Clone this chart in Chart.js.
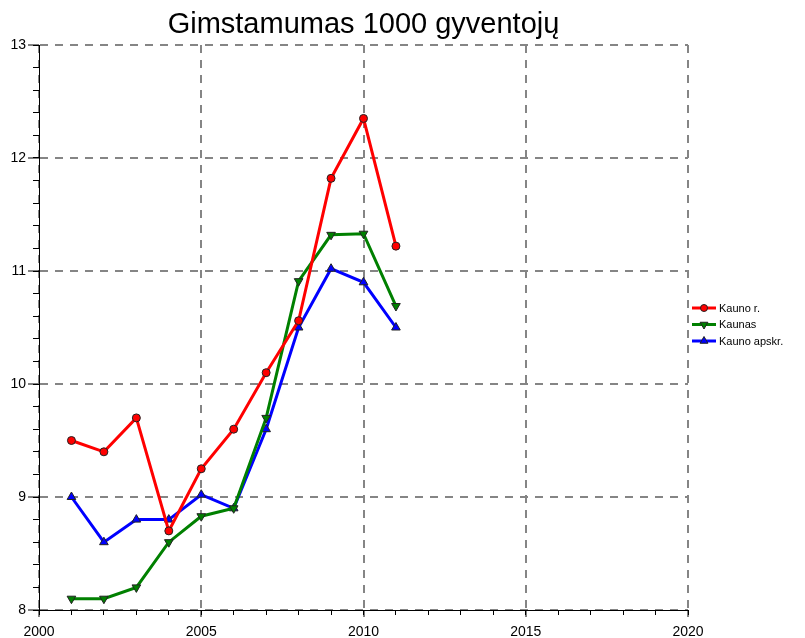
<!DOCTYPE html>
<html>
<head>
<meta charset="utf-8">
<title>Gimstamumas 1000 gyventojų</title>
<script src="https://cdn.jsdelivr.net/npm/chart.js@4.4.1/dist/chart.umd.min.js"></script>
<style>
  html, body { margin: 0; padding: 0; background: #fff; }
  canvas { display: block; }
</style>
</head>
<body>
<canvas id="chart" width="805" height="638"></canvas>
<script>
const years = [2001, 2002, 2003, 2004, 2005, 2006, 2007, 2008, 2009, 2010, 2011];
const kaunoR = [9.5, 9.4, 9.7, 8.7, 9.25, 9.6, 10.1, 10.56, 11.82, 12.35, 11.22];
const kaunas = [8.1, 8.1, 8.2, 8.6, 8.83, 8.9, 9.7, 10.91, 11.32, 11.33, 10.69];
const kaunoApskr = [9.0, 8.6, 8.8, 8.8, 9.02, 8.9, 9.6, 10.5, 11.02, 10.9, 10.5];
const yTicks = [8, 9, 10, 11, 12, 13];
const xTicks = [2000, 2005, 2010, 2015, 2020];
const titleText = 'Gimstamumas 1000 gyventojų';

const FONT = 'Arial, "Liberation Sans", sans-serif';

function toPoints(values) {
  return years.map((yr, i) => ({ x: yr, y: values[i] }));
}

function series(label, values, color, rotation, radius) {
  return {
    label: label,
    data: toPoints(values),
    borderColor: color,
    backgroundColor: color,
    borderWidth: 3,
    tension: 0,
    pointStyle: rotation === null ? 'circle' : 'triangle',
    pointRotation: rotation || 0,
    pointRadius: radius,
    pointHoverRadius: radius,
    pointBackgroundColor: color,
    pointBorderColor: '#222',
    pointBorderWidth: 1
  };
}

// marker shape shared by the legend swatches
function marker(ctx, ds, cx, cy, r) {
  ctx.beginPath();
  if (ds.pointStyle === 'circle') {
    ctx.arc(cx, cy, r, 0, Math.PI * 2);
  } else {
    const rot = ds.pointRotation * Math.PI / 180;
    for (let k = 0; k < 3; k++) {
      const a = rot - Math.PI / 2 + k * 2 * Math.PI / 3;
      const px = cx + Math.cos(a) * r;
      const py = cy + Math.sin(a) * r;
      if (k === 0) ctx.moveTo(px, py); else ctx.lineTo(px, py);
    }
    ctx.closePath();
  }
  ctx.fillStyle = ds.pointBackgroundColor;
  ctx.strokeStyle = ds.pointBorderColor;
  ctx.lineWidth = 1;
  ctx.fill();
  ctx.stroke();
}

// title centred over the plot area, legend to the right of it
const decorations = {
  id: 'decorations',
  afterDraw(chart) {
    const ctx = chart.ctx;
    const area = chart.chartArea;
    ctx.save();
    ctx.fillStyle = '#000';
    ctx.font = '29px ' + FONT;
    ctx.textAlign = 'center';
    ctx.textBaseline = 'alphabetic';
    ctx.fillText(titleText, (area.left + area.right) / 2, 33);

    const x0 = area.right + 4;
    const x1 = x0 + 24;
    chart.data.datasets.forEach((ds, i) => {
      const y = 308 + i * 16.5;
      ctx.strokeStyle = ds.borderColor;
      ctx.lineWidth = 3;
      ctx.beginPath();
      ctx.moveTo(x0, y);
      ctx.lineTo(x1, y);
      ctx.stroke();
      marker(ctx, ds, (x0 + x1) / 2, y, ds.pointRadius - 0.5);
      ctx.fillStyle = '#000';
      ctx.font = '11px ' + FONT;
      ctx.textAlign = 'left';
      ctx.textBaseline = 'middle';
      ctx.fillText(ds.label, x1 + 3, y + 0.5);
    });
    ctx.restore();
  }
};

const gridStyle = {
  color: '#858585',
  lineWidth: 2,
  tickColor: '#000',
  tickWidth: 1
};

new Chart(document.getElementById('chart'), {
  type: 'line',
  data: {
    datasets: [
      series('Kauno r.', kaunoR, '#ff0000', null, 4),
      series('Kaunas', kaunas, '#008000', 180, 5),
      series('Kauno apskr.', kaunoApskr, '#0000ff', 0, 5)
    ]
  },
  options: {
    responsive: false,
    animation: false,
    events: [],
    layout: { padding: { top: 45, right: 117, bottom: 0, left: 0 } },
    plugins: {
      legend: { display: false },
      title: { display: false },
      tooltip: { enabled: false }
    },
    scales: {
      x: {
        type: 'linear',
        position: 'bottom',
        weight: 1,
        min: 2000,
        max: 2020,
        afterBuildTicks(scale) { scale.ticks = xTicks.map(v => ({ value: v })); },
        afterFit(scale) { scale.height = 28; },
        grid: Object.assign({ tickLength: 7 }, gridStyle),
        border: { display: true, color: '#000', width: 1, dash: [8, 7] },
        ticks: {
          color: '#000',
          padding: 7,
          maxRotation: 0,
          font: { family: FONT, size: 14 },
          callback: v => String(v)
        }
      },
      xMinor: {
        type: 'linear',
        position: 'bottom',
        weight: 0,
        min: 2000,
        max: 2020,
        ticks: { display: false, stepSize: 1 },
        afterFit(scale) { scale.height = 0; },
        grid: { drawOnChartArea: false, tickLength: 5, tickColor: '#000', tickWidth: 1 },
        border: { display: false }
      },
      y: {
        type: 'linear',
        position: 'left',
        weight: 1,
        min: 8,
        max: 13,
        afterBuildTicks(scale) { scale.ticks = yTicks.map(v => ({ value: v })); },
        afterFit(scale) { scale.width = 39; },
        grid: Object.assign({ tickLength: 11 }, gridStyle),
        border: { display: true, color: '#000', width: 1, dash: [8, 7] },
        ticks: {
          color: '#000',
          padding: 2,
          font: { family: FONT, size: 14 },
          callback: v => String(v)
        }
      },
      yMinor: {
        type: 'linear',
        position: 'left',
        weight: 0,
        min: 8,
        max: 13,
        ticks: { display: false, stepSize: 0.2 },
        afterFit(scale) { scale.width = 0; },
        grid: { drawOnChartArea: false, tickLength: 6, tickColor: '#000', tickWidth: 1 },
        border: { display: false }
      }
    }
  },
  plugins: [decorations]
});
</script>
</body>
</html>
